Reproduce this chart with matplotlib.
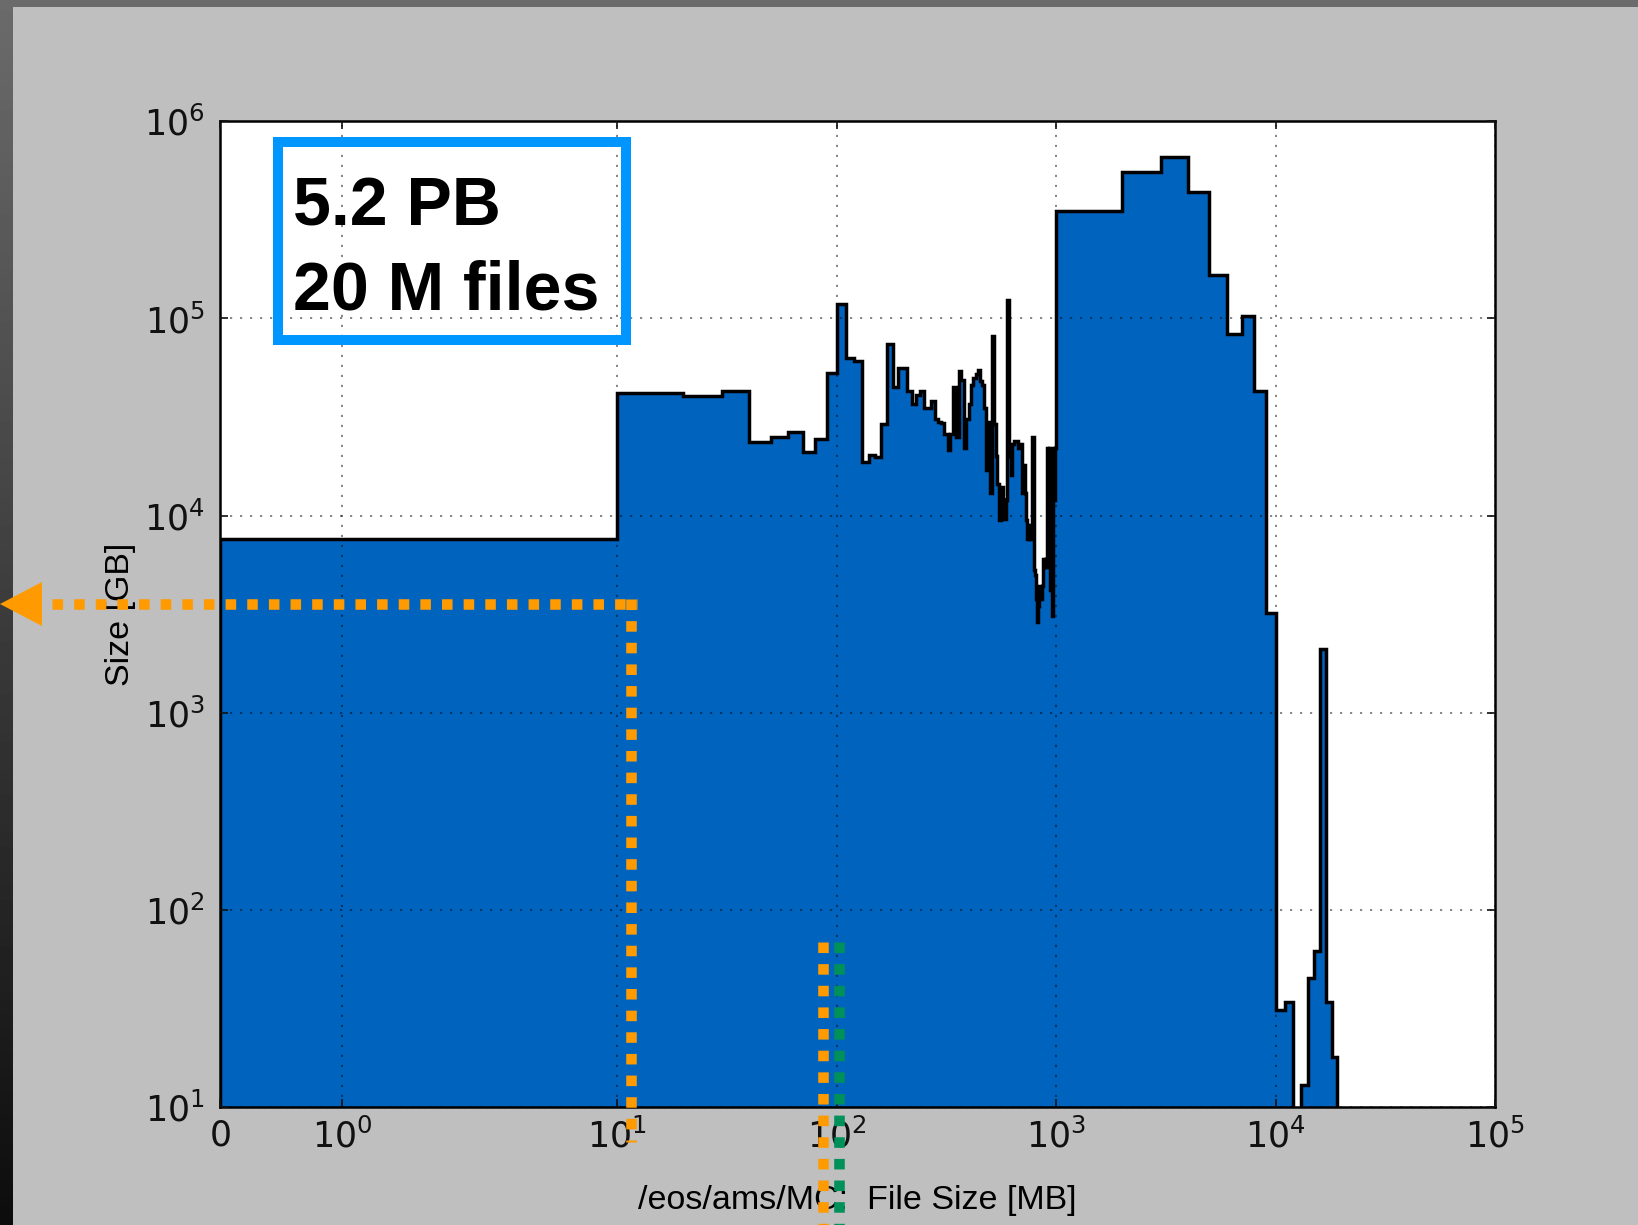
#!/usr/bin/env python
import numpy as np
import matplotlib
matplotlib.use('Agg')
import matplotlib.pyplot as plt
from matplotlib.patches import Rectangle, Polygon
from matplotlib.lines import Line2D
from matplotlib.ticker import NullLocator

plt.rcParams['mathtext.fontset'] = 'dejavusans'

##########################################
# /eos/ams/MC : summed size [GB] per file-size bin [MB]

# bin edges: 10 MB wide up to 1 GB, 1 GB wide above
edges_fine = list(range(0, 1001, 10))
edges_coarse = list(range(2000, 20001, 1000))

size_fine = [
    7.6e3,                                                                    # 0
    4.17e4, 4.05e4, 4.3e4, 2.37e4, 2.5e4, 2.67e4, 2.1e4, 2.44e4, 5.3e4,       # 10..90
    1.19e5, 6.3e4, 6.1e4, 1.86e4, 2.03e4, 1.98e4, 2.9e4, 7.4e4, 4.5e4, 5.6e4,  # 100..190
    5.6e4, 4.3e4, 3.7e4, 4.1e4, 4.3e4, 3.5e4, 3.5e4, 3.8e4, 3.1e4, 3.0e4,     # 200..290
    2.95e4, 2.6e4, 2.15e4, 2.6e4, 4.5e4, 2.5e4, 5.4e4, 4.9e4, 2.2e4, 3.1e4,   # 300..390
    3.7e4, 4.6e4, 5.0e4, 5.2e4, 5.5e4, 4.8e4, 4.6e4, 3.5e4, 1.7e4, 3.0e4,     # 400..490
    1.3e4, 8.1e4, 2.9e4, 2.0e4, 1.45e4, 9.5e3, 1.4e4, 1.2e4, 9.6e3, 1.2e4,    # 500..590
    1.24e5, 2.0e4, 1.6e4, 2.3e4, 2.4e4, 2.4e4, 2.4e4, 2.2e4, 2.3e4, 2.3e4,    # 600..690
    1.3e4, 1.8e4, 1.3e4, 9.5e3, 7.6e3, 9.0e3, 7.6e3, 8.0e3, 2.5e4, 5.3e3,     # 700..790
    5.0e3, 3.8e3, 2.9e3, 3.5e3, 4.4e3, 3.8e3, 4.4e3, 6.0e3, 5.5e3, 6.0e3,     # 800..890
    5.5e3, 2.2e4, 1.2e4, 2.2e4, 4.2e3, 1.2e4, 3.1e3, 2.2e4, 1.2e4, 2.2e4,     # 900..990
]
size_coarse = [
    3.52e5, 5.5e5, 6.6e5, 4.37e5, 1.66e5, 8.3e4, 1.03e5, 4.3e4, 3.2e3,   # 1000..9000
    31, 34, 0, 13, 45, 62, 2100, 34, 18, 0,                             # 10000..19000
]

edges = edges_fine + edges_coarse
sizes = size_fine + size_coarse

xtick_vals = [0, 1, 10, 100, 1000, 10000, 100000]
xtick_labels = ['$0$', '$10^{0}$', '$10^{1}$', '$10^{2}$', '$10^{3}$', '$10^{4}$', '$10^{5}$']
ytick_vals = [1e1, 1e2, 1e3, 1e4, 1e5, 1e6]
ytick_labels = ['$10^{1}$', '$10^{2}$', '$10^{3}$', '$10^{4}$', '$10^{5}$', '$10^{6}$']

xlabel_text = '/eos/ams/MC:  File Size [MB]'
ylabel_text = 'Size [GB]'
box_lines = ['5.2 PB', '20 M files']

##########################################

W, H = 1638, 1225
fig = plt.figure(figsize=(W / 100., H / 100.), dpi=100)
fig.patch.set_facecolor('#bfbfbf')

def fx(x):
    return x / float(W)

def fy(y):
    return 1 - y / float(H)

# slide frame: dark strip on the left, gray band on top
strip = fig.add_axes([0, 0, fx(13), 1])
strip.imshow(np.linspace(0.42, 0.05, 256).reshape(-1, 1), cmap='gray',
             vmin=0, vmax=1, aspect='auto', extent=[0, 1, 0, 1])
strip.axis('off')
fig.add_artist(Rectangle((0, fy(7)), 1, 7. / H, transform=fig.transFigure,
                         color='#6b6b6b', lw=0))

ax = fig.add_axes([fx(220), fy(1107.3), fx(1495) - fx(220), (1107.3 - 121.2) / H])
ax.set_xscale('symlog', linthresh=2)
ax.set_yscale('log')

ax.stairs(sizes, edges, fill=True, baseline=0, facecolor='#0063be',
          edgecolor='black', linewidth=2.5)

ax.set_xlim(0, 1e5)
ax.set_ylim(10, 1e6)
ax.set_xticks(xtick_vals)
ax.set_xticklabels(xtick_labels)
ax.set_yticks(ytick_vals)
ax.set_yticklabels(ytick_labels)
ax.xaxis.set_minor_locator(NullLocator())
ax.yaxis.set_minor_locator(NullLocator())
ax.tick_params(which='major', direction='in', length=6, width=1.2,
               top=True, right=True, labelsize=25, colors='#111111')
ax.tick_params(axis='y', pad=11)
ax.tick_params(axis='x', pad=8)

ax.set_axisbelow(False)
ax.grid(True, color='k', alpha=0.55, linestyle=(0, (1.3, 4.7)), linewidth=1.2)
for sp in ax.spines.values():
    sp.set_linewidth(1.8)

ax.set_xlabel(xlabel_text, fontsize=24.5, family='Liberation Sans')
ax.xaxis.set_label_coords(0.5, -0.079)
ax.set_ylabel(ylabel_text, fontsize=24.5, family='Liberation Sans')
ax.yaxis.set_label_coords(-0.066, 0.5)

# slide annotations
fig.add_artist(Rectangle((fx(277.7), fy(339.5)), fx(626.3) - fx(277.7), (339.5 - 142) / H,
                         transform=fig.transFigure, fill=False, edgecolor='#0096ff',
                         lw=7.2, joinstyle='miter', zorder=5))
fig.text(fx(293), fy(225), box_lines[0], fontsize=49, fontweight='bold',
         family='Liberation Sans', va='baseline', ha='left', zorder=6)
fig.text(fx(293), fy(309), box_lines[1], fontsize=49, fontweight='bold',
         family='Liberation Sans', va='baseline', ha='left', zorder=6)

orange = '#ff9a00'
green = '#00915a'
dots = (0, (1.0, 1.05))
fig.add_artist(Line2D([fx(52), fx(637)], [fy(604), fy(604)], transform=fig.transFigure,
                      color=orange, lw=7.6, linestyle=dots, dash_capstyle='butt', zorder=5))
fig.add_artist(Line2D([fx(631), fx(631)], [fy(599), fy(1142)], transform=fig.transFigure,
                      color=orange, lw=7.6, linestyle=dots, dash_capstyle='butt', zorder=5))
fig.add_artist(Polygon([(fx(0), fy(604)), (fx(42), fy(582)), (fx(42), fy(626))],
                       closed=True, transform=fig.transFigure, color=orange, lw=0, zorder=5))
fig.add_artist(Line2D([fx(823), fx(823)], [fy(942), fy(1240)], transform=fig.transFigure,
                      color=orange, lw=7.6, linestyle=dots, dash_capstyle='butt', zorder=5))
fig.add_artist(Line2D([fx(838.7), fx(838.7)], [fy(942), fy(1240)], transform=fig.transFigure,
                      color=green, lw=7.6, linestyle=dots, dash_capstyle='butt', zorder=5))

plt.savefig('out.png', dpi=100, facecolor=fig.get_facecolor())
plt.close('all')
